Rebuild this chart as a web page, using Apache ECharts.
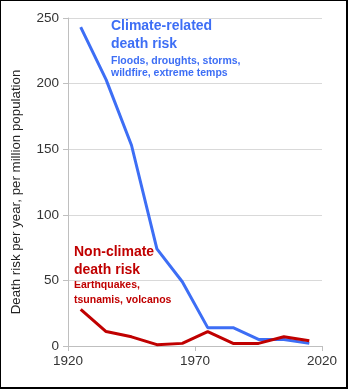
<!DOCTYPE html>
<html><head><meta charset="utf-8">
<script src="https://cdn.jsdelivr.net/npm/echarts@6/dist/echarts.min.js"></script>
<style>
html,body{margin:0;padding:0;background:#fff;}
#box{position:absolute;left:0;top:0;width:345px;height:386px;border-left:1px solid #000;border-top:1px solid #000;border-right:2px solid #000;border-bottom:2px solid #000;}
#c{position:absolute;left:-1px;top:-1px;width:348px;height:389px;}
</style></head>
<body><div id="box"><div id="c"></div></div>
<script>
const years = [1925, 1935, 1945, 1955, 1965, 1975, 1985, 1995, 2005, 2015];
const climate = [243, 203, 153, 74, 49, 14, 14, 5, 5, 2];
const nonClimate = [28, 11, 7, 1, 2, 11, 2, 2, 7, 4];
const yTicks = [0, 50, 100, 150, 200, 250];
const xTicks = [1920, 1970, 2020];

const FONT = '"Liberation Sans", Arial, sans-serif';
const chart = echarts.init(document.getElementById('c'));
const BLUE = '#3d6ef5', RED = '#c00000';
function txt(x, y, t, size, color) {
  return {type:'text', left:x, top:y, style:{text:t, font:'bold ' + size + 'px ' + FONT, fill:color}};
}
chart.setOption({
  animation:false,
  grid:{left:68, right:26, top:18, bottom:43, containLabel:false},
  xAxis:{type:'value', min:xTicks[0], max:xTicks[xTicks.length-1], interval:xTicks[1]-xTicks[0],
    axisLine:{lineStyle:{color:'#bfbfbf', width:1}},
    axisTick:{show:true, length:5, lineStyle:{color:'#bfbfbf'}},
    splitLine:{show:false},
    axisLabel:{color:'#333', fontSize:13.5, fontFamily:FONT, margin:8, formatter:v=>String(v)}},
  yAxis:{type:'value', min:yTicks[0], max:yTicks[yTicks.length-1], interval:yTicks[1]-yTicks[0],
    name:'Death risk per year, per million population', nameLocation:'middle', nameGap:45,
    nameTextStyle:{color:'#222', fontSize:13.3, fontFamily:FONT, padding:[0,20,0,0]},
    axisLine:{show:true, lineStyle:{color:'#bfbfbf'}},
    axisTick:{show:true, length:5, lineStyle:{color:'#bfbfbf'}},
    splitLine:{lineStyle:{color:'#d9d9d9'}},
    axisLabel:{color:'#333', fontSize:13.5, fontFamily:FONT, margin:9}},
  series:[
    {type:'line', data:years.map((y,i)=>[y, climate[i]]), symbol:'none', lineStyle:{color:BLUE, width:3}, z:2},
    {type:'line', data:years.map((y,i)=>[y, nonClimate[i]]), symbol:'none', lineStyle:{color:RED, width:3}, z:3}
  ],
  graphic:[
    txt(111, 19, 'Climate-related', 14, BLUE),
    txt(111, 37, 'death risk', 14, BLUE),
    txt(111, 56, 'Floods, droughts, storms,', 10.5, BLUE),
    txt(111, 68, 'wildfire, extreme temps', 10.5, BLUE),
    txt(74, 245, 'Non-climate', 14, RED),
    txt(74, 263, 'death risk', 14, RED),
    txt(74, 280, 'Earthquakes,', 10.5, RED),
    txt(74, 295, 'tsunamis, volcanos', 10.5, RED)
  ]
});
</script></body></html>
